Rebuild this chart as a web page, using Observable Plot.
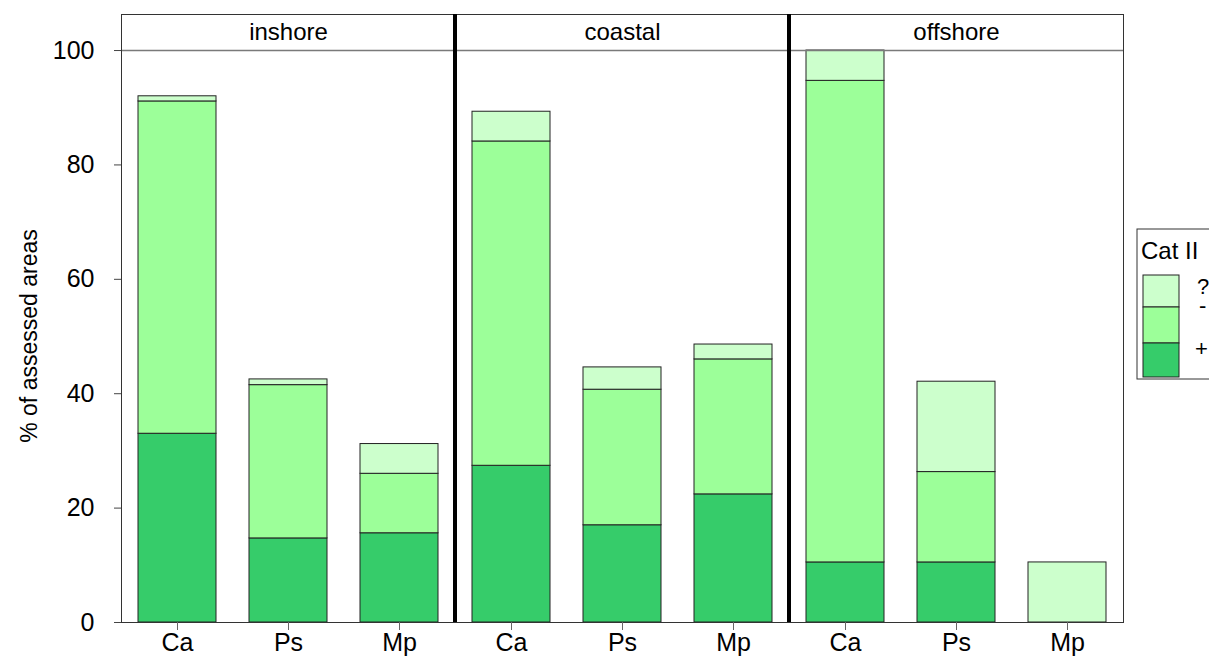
<!DOCTYPE html>
<html>
<head>
<meta charset="utf-8">
<script src="https://cdn.jsdelivr.net/npm/d3@7"></script>
<script src="https://cdn.jsdelivr.net/npm/@observablehq/plot@0.6"></script>
<style>
  html, body { margin: 0; padding: 0; background: #fff; overflow: hidden; }
  #chart { width: 1209px; height: 661px; }
</style>
</head>
<body>
<div id="chart"></div>
<script>
// Zones (panels) and species (bars within each panel)
const zones = ["inshore", "coastal", "offshore"];
const species = ["Ca", "Ps", "Mp"];
// Category II classes, stacked from bottom to top
const classes = ["+", "-", "?"];
const classColors = ["#36cc6a", "#9cff99", "#ccffcc"];

// Percent of assessed areas per class, ordered zone by zone, species Ca, Ps, Mp
const plusPct  = [33.0, 14.7, 15.6,   27.4, 17.0, 22.4,   10.5, 10.5, 0];
const minusPct = [58.1, 26.8, 10.4,   56.7, 23.7, 23.6,   84.2, 15.8, 0];
const queryPct = [ 0.9,  1.0,  5.2,    5.2,  3.9,  2.6,    5.3, 15.8, 10.5];

const yTicks = [0, 20, 40, 60, 80, 100];
const yTop = 106.3; // room above 100 for the panel strip

const FONT = '"Liberation Sans", Arial, sans-serif';

const rows = [];
zones.forEach((z, i) => species.forEach((s, j) => {
  const k = i * species.length + j;
  rows.push({zone: z, sp: s, cat: "+", v: plusPct[k]});
  rows.push({zone: z, sp: s, cat: "-", v: minusPct[k]});
  rows.push({zone: z, sp: s, cat: "?", v: queryPct[k]});
}));

const plot = Plot.plot({
  width: 1209,
  height: 661,
  marginLeft: 120,
  marginRight: 86,
  marginTop: 14,
  marginBottom: 39,
  style: {fontFamily: FONT, fontSize: "24px", background: "white", color: "black"},
  fx: {domain: zones, padding: 0, axis: null},
  x: {domain: species, paddingInner: 0.3, paddingOuter: 0.15, axis: null},
  y: {domain: [0, yTop], axis: null},
  color: {domain: classes, range: classColors},
  marks: [
    Plot.barY(rows.filter(d => d.v > 0), Plot.stackY({
      fx: "zone", x: "sp", y: "v", fill: "cat",
      stroke: "#222", strokeWidth: 1
    })),
    Plot.ruleY([100], {stroke: "#7a7a7a", strokeWidth: 1.5}),
    Plot.text(zones, {fx: d => d, text: d => d, y: (100 + yTop) / 2, fontSize: 24, fill: "black"}),
    Plot.frame({stroke: "#333", strokeWidth: 1}),
    Plot.axisY(yTicks, {anchor: "left", tickSize: 7, tickPadding: 20, fontSize: 25, stroke: "#444", label: null}),
    Plot.axisX({anchor: "bottom", tickSize: 8, tickPadding: 3, fontSize: 25, stroke: "#666", label: null})
  ]
});

const svg = d3.select(plot);
const fx = plot.scale("fx");
const y = plot.scale("y");
const color = plot.scale("color");

// Thick separators between the zone panels
svg.append("g")
  .selectAll("line")
  .data(zones.slice(1))
  .join("line")
  .attr("x1", d => fx.apply(d))
  .attr("x2", d => fx.apply(d))
  .attr("y1", y.apply(yTop))
  .attr("y2", y.apply(0))
  .attr("stroke", "black")
  .attr("stroke-width", 4);

// Y axis title, centred on the 0–100 range
svg.append("text")
  .attr("transform", `translate(31,${(y.apply(0) + y.apply(100)) / 2}) rotate(-90)`)
  .attr("text-anchor", "middle")
  .attr("dominant-baseline", "middle")
  .attr("font-family", FONT)
  .attr("font-size", 23)
  .attr("fill", "black")
  .text("% of assessed areas");

// Legend for Category II classes
const lg = svg.append("g").attr("font-family", FONT).attr("text-anchor", "start").attr("fill", "black");
lg.append("rect")
  .attr("x", 1137).attr("y", 229).attr("width", 100).attr("height", 150)
  .attr("fill", "white").attr("stroke", "#333");
lg.append("text")
  .attr("x", 1141).attr("y", 259).attr("font-size", 24).text("Cat II");
const swatch = [{c: "?", y0: 275, y1: 307}, {c: "-", y0: 307, y1: 343}, {c: "+", y0: 343, y1: 377}];
lg.selectAll("rect.sw")
  .data(swatch)
  .join("rect")
  .attr("class", "sw")
  .attr("x", 1143).attr("width", 36)
  .attr("y", d => d.y0).attr("height", d => d.y1 - d.y0)
  .attr("fill", d => color.apply(d.c))
  .attr("stroke", "#222");
const labelY = {"?": 294, "-": 313, "+": 356};
const labelX = {"?": 1197, "-": 1199, "+": 1195};
lg.selectAll("text.lab")
  .data(classes)
  .join("text")
  .attr("class", "lab")
  .attr("x", d => labelX[d]).attr("y", d => labelY[d])
  .attr("font-size", 22)
  .text(d => d);

document.getElementById("chart").appendChild(plot);
</script>
</body>
</html>
